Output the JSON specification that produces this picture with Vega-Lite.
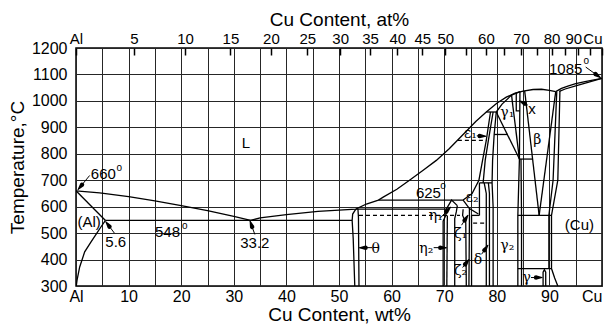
{
  "$schema": "https://vega.github.io/schema/vega-lite/v6.json",
  "width": 526,
  "height": 238,
  "autosize": {"type": "none"},
  "padding": {"left": 76, "top": 48, "right": 10, "bottom": 46},
  "background": "white",
  "config": {
    "view": {"stroke": "black", "strokeWidth": 1.5},
    "font": "Liberation Sans",
    "axis": {
      "labelFont": "Liberation Sans", "titleFont": "Liberation Sans",
      "labelColor": "black", "titleColor": "black", "titleFontWeight": "normal",
      "labelFontSize": 16, "titleFontSize": 19,
      "gridColor": "#262626", "gridWidth": 1, "gridOpacity": 1,
      "domain": false, "ticks": false, "labelOverlap": false, "labelFlush": false
    },
    "axisY": {"format": "d"},
    "text": {"fill": "black"}
  },
  "datasets": {
    "phase": [
      {"id":"liqA","i":0,"w":0,"t":660},{"id":"liqA","i":1,"w":4.5,"t":652},{"id":"liqA","i":2,"w":10,"t":638},{"id":"liqA","i":3,"w":15,"t":622},{"id":"liqA","i":4,"w":20,"t":604},{"id":"liqA","i":5,"w":25,"t":585},{"id":"liqA","i":6,"w":30,"t":563},{"id":"liqA","i":7,"w":33.2,"t":548},
      {"id":"liqB","i":0,"w":33.2,"t":548},{"id":"liqB","i":1,"w":35,"t":558},{"id":"liqB","i":2,"w":40,"t":570},{"id":"liqB","i":3,"w":46,"t":582},{"id":"liqB","i":4,"w":50,"t":587},{"id":"liqB","i":5,"w":53.2,"t":591},{"id":"liqB","i":6,"w":55.2,"t":610},{"id":"liqB","i":7,"w":57.5,"t":625},{"id":"liqB","i":8,"w":58.4,"t":636},{"id":"liqB","i":9,"w":61,"t":666},{"id":"liqB","i":10,"w":63.4,"t":700},{"id":"liqB","i":11,"w":66,"t":738},{"id":"liqB","i":12,"w":68.5,"t":775},{"id":"liqB","i":13,"w":71,"t":820},{"id":"liqB","i":14,"w":74.2,"t":885},{"id":"liqB","i":15,"w":76,"t":922},{"id":"liqB","i":16,"w":78,"t":958},{"id":"liqB","i":17,"w":80,"t":991},{"id":"liqB","i":18,"w":81.8,"t":1014},{"id":"liqB","i":19,"w":83.5,"t":1029},{"id":"liqB","i":20,"w":85,"t":1037},{"id":"liqB","i":21,"w":86.9,"t":1043},{"id":"liqB","i":22,"w":88.5,"t":1044},{"id":"liqB","i":23,"w":90,"t":1040},{"id":"liqB","i":24,"w":91.2,"t":1035},
      {"id":"liqC","i":0,"w":91.2,"t":1035},{"id":"liqC","i":1,"w":92.3,"t":1047},{"id":"liqC","i":2,"w":93.5,"t":1056},{"id":"liqC","i":3,"w":95,"t":1065},{"id":"liqC","i":4,"w":97,"t":1074},{"id":"liqC","i":5,"w":100,"t":1085},
      {"id":"solCu","i":0,"w":91.9,"t":1036},{"id":"solCu","i":1,"w":93,"t":1045},{"id":"solCu","i":2,"w":95,"t":1057},{"id":"solCu","i":3,"w":97,"t":1068},{"id":"solCu","i":4,"w":100,"t":1085},
      {"id":"solAl","i":0,"w":0,"t":660},{"id":"solAl","i":1,"w":5.6,"t":548},
      {"id":"svAl","i":0,"w":5.6,"t":548},{"id":"svAl","i":1,"w":4.8,"t":525},{"id":"svAl","i":2,"w":3.9,"t":498},{"id":"svAl","i":3,"w":2.8,"t":465},{"id":"svAl","i":4,"w":1.65,"t":429},{"id":"svAl","i":5,"w":0.7,"t":372},{"id":"svAl","i":6,"w":0.2,"t":322},{"id":"svAl","i":7,"w":0.05,"t":300},
      {"id":"eut","i":0,"w":5.6,"t":548},{"id":"eut","i":1,"w":52.5,"t":548},
      {"id":"thL","i":0,"w":53.2,"t":591},{"id":"thL","i":1,"w":52.6,"t":572},{"id":"thL","i":2,"w":52.5,"t":548},{"id":"thL","i":3,"w":52.7,"t":480},{"id":"thL","i":4,"w":53.0,"t":300},
      {"id":"thR","i":0,"w":53.6,"t":591},{"id":"thR","i":1,"w":53.7,"t":560},{"id":"thR","i":2,"w":53.8,"t":300},
      {"id":"p591","i":0,"w":53.2,"t":591},{"id":"p591","i":1,"w":70.4,"t":591},
      {"id":"p625","i":0,"w":57.5,"t":625},{"id":"p625","i":1,"w":73.6,"t":625},
      {"id":"eta1","i":0,"w":70.4,"t":591},{"id":"eta1","i":1,"w":71.4,"t":625},{"id":"eta1","i":2,"w":72.5,"t":604},
      {"id":"etaL","i":0,"w":70.4,"t":591},{"id":"etaL","i":1,"w":70.3,"t":567},{"id":"etaL","i":2,"w":69.8,"t":545},{"id":"etaL","i":3,"w":69.8,"t":300},
      {"id":"etaM","i":0,"w":70.6,"t":567},{"id":"etaM","i":1,"w":70.5,"t":300},
      {"id":"etaR","i":0,"w":72.5,"t":604},{"id":"etaR","i":1,"w":72.3,"t":580},{"id":"etaR","i":2,"w":72.0,"t":555},{"id":"etaR","i":3,"w":72.0,"t":300},
      {"id":"zeA","i":0,"w":73.6,"t":590},{"id":"zeA","i":1,"w":73.5,"t":567},{"id":"zeA","i":2,"w":74.1,"t":540},{"id":"zeA","i":3,"w":74.2,"t":300},
      {"id":"zeB","i":0,"w":74.8,"t":593},{"id":"zeB","i":1,"w":74.8,"t":560},{"id":"zeB","i":2,"w":74.7,"t":300},
      {"id":"zeC","i":0,"w":75.2,"t":567},{"id":"zeC","i":1,"w":75.2,"t":300},
      {"id":"e2low","i":0,"w":73.6,"t":625},{"id":"e2low","i":1,"w":74.8,"t":593},{"id":"e2low","i":2,"w":76.5,"t":572},
      {"id":"p567b","i":0,"w":75.2,"t":567},{"id":"p567b","i":1,"w":76.7,"t":567},
      {"id":"e2R","i":0,"w":76.7,"t":690},{"id":"e2R","i":1,"w":76.7,"t":567},
      {"id":"p690","i":0,"w":76.7,"t":690},{"id":"p690","i":1,"w":79.1,"t":690},
      {"id":"deL","i":0,"w":77.6,"t":690},{"id":"deL","i":1,"w":78.0,"t":650},{"id":"deL","i":2,"w":78.0,"t":300},
      {"id":"deR","i":0,"w":78.4,"t":690},{"id":"deR","i":1,"w":78.6,"t":650},{"id":"deR","i":2,"w":78.6,"t":300},
      {"id":"g2L","i":0,"w":79.1,"t":690},{"id":"g2L","i":1,"w":79.3,"t":600},{"id":"g2L","i":2,"w":79.3,"t":300},
      {"id":"epsL","i":0,"w":73.6,"t":625},{"id":"epsL","i":1,"w":75.3,"t":650},{"id":"epsL","i":2,"w":76.6,"t":700},{"id":"epsL","i":3,"w":77.3,"t":776},{"id":"epsL","i":4,"w":78.0,"t":851},{"id":"epsL","i":5,"w":78.8,"t":958},
      {"id":"epsR","i":0,"w":77.4,"t":690},{"id":"epsR","i":1,"w":77.8,"t":776},{"id":"epsR","i":2,"w":78.4,"t":851},{"id":"epsR","i":3,"w":79.3,"t":958},
      {"id":"p958","i":0,"w":78.0,"t":958},{"id":"p958","i":1,"w":79.9,"t":958},
      {"id":"p873","i":0,"w":79.5,"t":873},{"id":"p873","i":1,"w":82.1,"t":873},
      {"id":"g1L","i":0,"w":79.9,"t":958},{"id":"g1L","i":1,"w":79.5,"t":873},{"id":"g1L","i":2,"w":79.2,"t":776},{"id":"g1L","i":3,"w":79.1,"t":690},
      {"id":"g1T","i":0,"w":79.9,"t":958},{"id":"g1T","i":1,"w":81.0,"t":988},{"id":"g1T","i":2,"w":82.8,"t":1022},{"id":"g1T","i":3,"w":84.4,"t":1035},
      {"id":"g1D","i":0,"w":79.9,"t":958},{"id":"g1D","i":1,"w":84.3,"t":780},
      {"id":"g1R","i":0,"w":82.8,"t":1022},{"id":"g1R","i":1,"w":84.3,"t":780},
      {"id":"xph","i":0,"w":83.7,"t":1030},{"id":"xph","i":1,"w":83.7,"t":962},{"id":"xph","i":2,"w":84.4,"t":962},
      {"id":"bL1","i":0,"w":84.4,"t":1035},{"id":"bL1","i":1,"w":84.3,"t":780},{"id":"bL1","i":2,"w":84.0,"t":567},{"id":"bL1","i":3,"w":84.0,"t":300},
      {"id":"bL2","i":0,"w":84.6,"t":780},{"id":"bL2","i":1,"w":84.7,"t":567},{"id":"bL2","i":2,"w":84.7,"t":300},
      {"id":"p780","i":0,"w":84.3,"t":780},{"id":"p780","i":1,"w":86.7,"t":780},
      {"id":"vL","i":0,"w":85.3,"t":1038},{"id":"vL","i":1,"w":88.05,"t":567},
      {"id":"vR","i":0,"w":91.2,"t":1035},{"id":"vR","i":1,"w":88.05,"t":567},
      {"id":"cu1","i":0,"w":91.4,"t":1035},{"id":"cu1","i":1,"w":90.7,"t":700},{"id":"cu1","i":2,"w":89.9,"t":567},{"id":"cu1","i":3,"w":89.9,"t":366},
      {"id":"cu2","i":0,"w":92.0,"t":1038},{"id":"cu2","i":1,"w":91.6,"t":700},{"id":"cu2","i":2,"w":90.4,"t":567},{"id":"cu2","i":3,"w":90.4,"t":366},{"id":"cu2","i":4,"w":91.0,"t":330},{"id":"cu2","i":5,"w":91.6,"t":300},
      {"id":"p567","i":0,"w":84.0,"t":567},{"id":"p567","i":1,"w":90.4,"t":567},
      {"id":"p366","i":0,"w":84.0,"t":366},{"id":"p366","i":1,"w":90.4,"t":366},
      {"id":"a2","i":0,"w":88.8,"t":300},{"id":"a2","i":1,"w":88.8,"t":352},{"id":"a2","i":2,"w":89.05,"t":362},{"id":"a2","i":3,"w":89.3,"t":352},{"id":"a2","i":4,"w":89.3,"t":300}
    ],
    "dashed": [
      {"id":"d567","i":0,"w":53.8,"t":567},{"id":"d567","i":1,"w":73.0,"t":567},
      {"id":"d851","i":0,"w":72.6,"t":851},{"id":"d851","i":1,"w":78.0,"t":851},
      {"id":"d538","i":0,"w":75.5,"t":538},{"id":"d538","i":1,"w":78.0,"t":538}
    ],
    "arrows": [
      {"a":"660","k":0,"w":2.6,"t":718},{"a":"660","k":1,"w":1.13,"t":682.5},{"a":"660","k":2,"w":0.4,"t":665},
      {"a":"5.6","k":0,"w":7.3,"t":500},{"a":"5.6","k":1,"w":6.36,"t":524.9},{"a":"5.6","k":2,"w":5.67,"t":543},
      {"a":"33.2","k":0,"w":34.0,"t":495},{"a":"33.2","k":1,"w":33.48,"t":523.6},{"a":"33.2","k":2,"w":33.1,"t":545},
      {"a":"1085","k":0,"w":96.9,"t":1128},{"a":"1085","k":1,"w":98.77,"t":1101.2},{"a":"1085","k":2,"w":99.7,"t":1088},
      {"a":"theta","k":0,"w":56.3,"t":445},{"a":"theta","k":1,"w":55.04,"t":445},{"a":"theta","k":2,"w":53.9,"t":445},
      {"a":"eta2","k":0,"w":68.0,"t":445},{"a":"eta2","k":1,"w":69.26,"t":445},{"a":"eta2","k":2,"w":70.4,"t":445},
      {"a":"eta1","k":0,"w":69.3,"t":558},{"a":"eta1","k":1,"w":70.42,"t":581.5},{"a":"eta1","k":2,"w":71.2,"t":598},
      {"a":"zeta1","k":0,"w":73.3,"t":530},{"a":"zeta1","k":1,"w":73.88,"t":547.9},{"a":"zeta1","k":2,"w":74.5,"t":567},
      {"a":"zeta2","k":0,"w":73.5,"t":370},{"a":"zeta2","k":1,"w":73.99,"t":382.2},{"a":"zeta2","k":2,"w":74.7,"t":400},
      {"a":"delta","k":0,"w":77.1,"t":420},{"a":"delta","k":1,"w":77.64,"t":435.4},{"a":"delta","k":2,"w":78.3,"t":454},
      {"a":"eps1","k":0,"w":76.2,"t":868},{"a":"eps1","k":1,"w":76.76,"t":867},{"a":"eps1","k":2,"w":77.9,"t":866},
      {"a":"x","k":0,"w":85.9,"t":984},{"a":"x","k":1,"w":85.32,"t":989.8},{"a":"x","k":2,"w":84.3,"t":1000},
      {"a":"gamma","k":0,"w":86.5,"t":332},{"a":"gamma","k":1,"w":87.46,"t":332},{"a":"gamma","k":2,"w":88.6,"t":332}
    ],
    "sans": [
      {"txt":"L","w":32.3,"t":839},
      {"txt":"660","w":5.2,"t":725},
      {"txt":"(Al)","w":2.5,"t":542},
      {"txt":"5.6","w":7.55,"t":465},
      {"txt":"548","w":17.4,"t":506},
      {"txt":"33.2","w":34.0,"t":463},
      {"txt":"625","w":67.0,"t":653},
      {"txt":"1085","w":93.1,"t":1119},
      {"txt":"(Cu)","w":95.7,"t":530},
      {"txt":"x","w":86.7,"t":971}
    ],
    "greek": [
      {"txt":"θ","w":57.0,"t":441},
      {"txt":"η₂","w":66.6,"t":441},
      {"txt":"η₁","w":68.4,"t":565},
      {"txt":"ε₂","w":75.3,"t":631},
      {"txt":"ζ₁","w":73.1,"t":496},
      {"txt":"ζ₂","w":73.1,"t":356},
      {"txt":"δ","w":76.4,"t":397},
      {"txt":"γ₂","w":82.0,"t":451},
      {"txt":"ε₁","w":75.0,"t":873},
      {"txt":"γ₁","w":82.0,"t":955},
      {"txt":"β","w":87.7,"t":851},
      {"txt":"γ","w":85.7,"t":331}
    ],
    "degrees": [
      {"w":8.25,"t":745},{"w":20.7,"t":527},{"w":69.8,"t":678},{"w":97.0,"t":1149}
    ]
  },
  "layer": [
    {
      "data": {"name": "phase"},
      "mark": {"type": "line", "stroke": "black", "strokeWidth": 1.3, "clip": true},
      "encoding": {
        "x": {"field": "w", "type": "quantitative",
          "scale": {"domain": [0, 100], "nice": false, "zero": false},
          "axis": {"orient": "bottom", "values": [0,5,10,15,20,25,30,35,40,45,50,55,60,65,70,75,80,85,90,95,100],
            "labelExpr": "datum.value == 0 ? 'Al' : datum.value == 100 ? 'Cu' : datum.value % 10 == 0 ? datum.label : ''",
            "labelAlign": {"condition": {"test": "datum.value == 100", "value": "right"}, "value": "center"},
            "title": "Cu Content, wt%", "grid": true, "labelPadding": 2, "titlePadding": 1}},
        "y": {"field": "t", "type": "quantitative",
          "scale": {"domain": [300, 1200], "nice": false, "zero": false},
          "axis": {"values": [300,400,500,600,700,800,900,1000,1100,1200], "format": "d", "title": "Temperature,°C",
            "grid": true, "labelPadding": 9, "titlePadding": 4}},
        "detail": {"field": "id"},
        "order": {"field": "i", "type": "quantitative"}
      }
    },
    {
      "data": {"name": "dashed"},
      "mark": {"type": "line", "stroke": "black", "strokeWidth": 1.2, "strokeDash": [4, 3]},
      "encoding": {
        "x": {"field": "w", "type": "quantitative", "axis": null},
        "y": {"field": "t", "type": "quantitative",
          "axis": {"values": [300,400,500,600,700,800,900,1000,1100,1200], "format": "d", "title": "Temperature,°C",
            "grid": true, "labelPadding": 9, "titlePadding": 4}},
        "detail": {"field": "id"},
        "order": {"field": "i", "type": "quantitative"}
      }
    },
    {
      "data": {"name": "arrows"},
      "mark": {"type": "line", "stroke": "black", "strokeWidth": 1},
      "encoding": {
        "x": {"field": "w", "type": "quantitative", "axis": null},
        "y": {"field": "t", "type": "quantitative",
          "axis": {"values": [300,400,500,600,700,800,900,1000,1100,1200], "format": "d", "title": "Temperature,°C",
            "grid": true, "labelPadding": 9, "titlePadding": 4}},
        "detail": {"field": "a"},
        "order": {"field": "k", "type": "quantitative"}
      }
    },
    {
      "data": {"name": "arrows"},
      "transform": [{"filter": "datum.k >= 1"}],
      "mark": {"type": "trail", "color": "black"},
      "encoding": {
        "x": {"field": "w", "type": "quantitative", "axis": null},
        "y": {"field": "t", "type": "quantitative",
          "axis": {"values": [300,400,500,600,700,800,900,1000,1100,1200], "format": "d", "title": "Temperature,°C",
            "grid": true, "labelPadding": 9, "titlePadding": 4}},
        "detail": {"field": "a"},
        "order": {"field": "k", "type": "quantitative"},
        "size": {"field": "k", "type": "quantitative", "scale": {"domain": [1, 2], "range": [4.5, 0]}, "legend": null}
      }
    },
    {
      "data": {"name": "sans"},
      "mark": {"type": "text", "font": "Liberation Sans", "fontSize": 15, "align": "center", "baseline": "middle", "fill": "black"},
      "encoding": {
        "x": {"field": "w", "type": "quantitative",
          "axis": {"orient": "top", "title": "Cu Content, at%", "grid": false, "offset": -7,
            "values": [0,11.03,20.74,29.36,37.06,43.98,50.23,55.91,61.09,65.84,70.20,74.22,77.94,81.39,84.61,87.60,90.40,93.03,95.50,97.81,100],
            "labelExpr": "datum.value == 0 ? 'Al' : datum.value == 100 ? 'Cu' : (datum.value > 71 && round(100*(datum.value/63.546)/(datum.value/63.546+(100-datum.value)/26.98)) % 10 == 5) ? '' : '' + round(100*(datum.value/63.546)/(datum.value/63.546+(100-datum.value)/26.98))",
            "labelAlign": {"condition": {"test": "datum.value == 100", "value": "right"}, "value": "center"},
            "labelOffset": {"condition": {"test": "datum.value == 95.5", "value": -5}, "value": 0},
            "labelFontSize": 15,
            "ticks": true, "tickSize": 7, "tickColor": "black", "tickWidth": 1.5,
            "labelPadding": 2, "titlePadding": 2}},
        "y": {"field": "t", "type": "quantitative",
          "axis": {"values": [300,400,500,600,700,800,900,1000,1100,1200], "format": "d", "title": "Temperature,°C",
            "grid": true, "labelPadding": 9, "titlePadding": 4}},
        "text": {"field": "txt"}
      }
    },
    {
      "data": {"name": "greek"},
      "mark": {"type": "text", "font": "DejaVu Serif", "fontSize": 14, "align": "center", "baseline": "middle", "fill": "black"},
      "encoding": {
        "x": {"field": "w", "type": "quantitative", "axis": null},
        "y": {"field": "t", "type": "quantitative",
          "axis": {"values": [300,400,500,600,700,800,900,1000,1100,1200], "format": "d", "title": "Temperature,°C",
            "grid": true, "labelPadding": 9, "titlePadding": 4}},
        "text": {"field": "txt"}
      }
    },
    {
      "data": {"name": "degrees"},
      "mark": {"type": "text", "font": "Liberation Sans", "fontSize": 10, "align": "center", "baseline": "middle", "fill": "black", "text": "o"},
      "encoding": {
        "x": {"field": "w", "type": "quantitative", "axis": null},
        "y": {"field": "t", "type": "quantitative",
          "axis": {"values": [300,400,500,600,700,800,900,1000,1100,1200], "format": "d", "title": "Temperature,°C",
            "grid": true, "labelPadding": 9, "titlePadding": 4}}
      }
    }
  ],
  "resolve": {"axis": {"x": "independent", "y": "shared"}}
}
